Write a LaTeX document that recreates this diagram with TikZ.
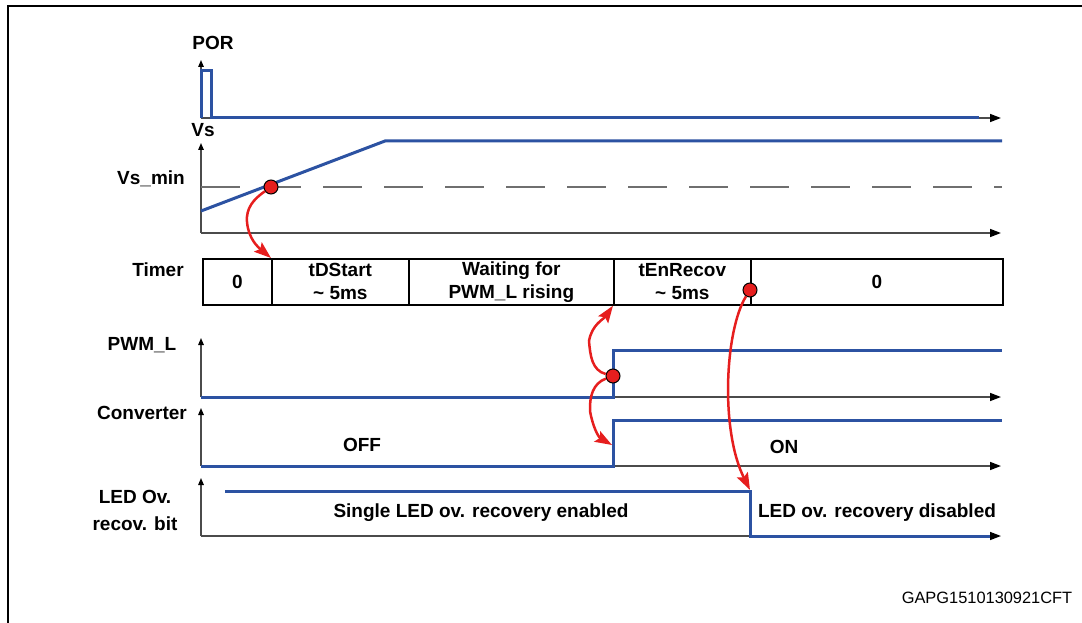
\documentclass[tikz,border=0pt]{standalone}
\usepackage{fontspec}
\setmainfont{Liberation Sans}
\usetikzlibrary{arrows.meta}
\definecolor{sig}{RGB}{44,82,162}
\definecolor{rd}{RGB}{230,30,30}
\definecolor{ax}{RGB}{75,75,75}
\begin{document}
\begin{tikzpicture}[x=1pt,y=-1pt,
 lbl/.style={font=\fontsize{19}{27}\selectfont\bfseries, inner sep=0pt, align=center},
 sigl/.style={draw=sig, line width=3pt},
 vaxis/.style={draw=ax, line width=1.4pt, -{Triangle[length=7pt,width=5.5pt,color=black]}},
 haxis/.style={draw=ax, line width=1.5pt, -{Triangle[length=11pt,width=8pt,color=black]}},
 dashl/.style={draw=ax!80, line width=1.3pt, dash pattern=on 39pt off 22pt},
 cell/.style={draw=black, line width=1.7pt, anchor=north west, minimum height=46pt, inner sep=0pt, font=\fontsize{19}{23}\selectfont\bfseries, align=center},
 dot/.style={circle, fill=rd, draw=black, line width=1pt, minimum size=14pt, inner sep=0pt},
 redarr/.style={draw=rd, line width=2.5pt, -{Stealth[length=17pt,width=12pt,inset=3pt]}},
]
\useasboundingbox (0,0) rectangle (1082,623);
% frame
\draw[line width=2.4pt] (8,623) -- (8,6) -- (1082,6);

% labels
\node[lbl] (lpor) at (213,43) {POR};
\node[lbl] (lvs) at (203,130) {Vs};
\node[lbl] (lvsmin) at (151,179) {Vs\_min};
\node[lbl] (ltimer) at (158,270) {Timer};
\node[lbl] (lpwm) at (142,345) {PWM\_L};
\node[lbl] (lconv) at (142,413) {Converter};
\node[lbl] (lled) at (135,510) {LED Ov.\\recov. bit};

% axes
\draw[vaxis] (201,118) -- (201,60);
\draw[haxis] (201,118) -- (1001,118);
\draw[vaxis] (201,233) -- (201,143);
\draw[haxis] (201,233) -- (1001,233);
\draw[dashl] (201,187) -- (1002,187);
\draw[vaxis] (201,397) -- (201,338);
\draw[haxis] (201,397) -- (1001,397);
\draw[vaxis] (201,466) -- (201,408);
\draw[haxis] (201,466) -- (1001,466);
\draw[vaxis] (201,536) -- (201,478);
\draw[haxis] (201,536) -- (1001,536);

% signals
\draw[sigl] (201,118) -- (201,71) -- (211,71) -- (211,118) -- (979,118);
\draw[sigl] (201,211) -- (385,141) -- (1002,141);
\draw[sigl] (201,397) -- (613,397) -- (613,350) -- (1002,350);
\draw[sigl] (201,466) -- (613,466) -- (613,420) -- (1002,420);
\draw[sigl] (225,491) -- (750,491) -- (750,536) -- (990,536);

% timer row
\node[cell, minimum width=69pt] (c1) at (202,258) {0};
\node[cell, minimum width=137pt] (c2) at (271,258) {tDStart\\\textasciitilde\ 5ms};
\node[cell, minimum width=205pt] (c3) at (408,258) {Waiting for\\PWM\_L rising};
\node[cell, minimum width=137pt] (c4) at (613,258) {tEnRecov\\\textasciitilde\ 5ms};
\node[cell, minimum width=252pt] (c5) at (750,258) {0};

% state texts
\node[lbl] (off) at (362,445) {OFF};
\node[lbl] (on) at (784,447) {ON};
\node[lbl] (enab) at (481,513) {Single LED ov. recovery enabled};
\node[lbl] (disab) at (877,513) {LED ov. recovery disabled};
\node[font=\fontsize{16.4}{18}\selectfont, inner sep=0pt] (code) at (987,598) {GAPG1510130921CFT};

% event dots
\node[dot] (d1) at (271,187) {};
\node[dot] (d2) at (613,376) {};
\node[dot] (d4) at (750,290) {};

% helper coordinates
\coordinate (k1) at (247,222);
\coordinate (k2) at (589,341);
\coordinate (k3) at (590,411);
\coordinate (t3) at (612,445);
\coordinate (t4) at (750,490);

% red causal arrows
\draw[redarr] (d1) to[out=215,in=95] (k1) to[out=-85,in=140] (c2.north west);
\draw[redarr] (d2) to[out=165,in=-85] (k2) to[out=80,in=-125] (c4.south west);
\draw[redarr] (d2) to[out=200,in=92] (k3) to[out=-80,in=150] (t3);
\draw[redarr] (d4) .. controls (725,330) and (720,430) .. (t4);
\end{tikzpicture}
\end{document}
